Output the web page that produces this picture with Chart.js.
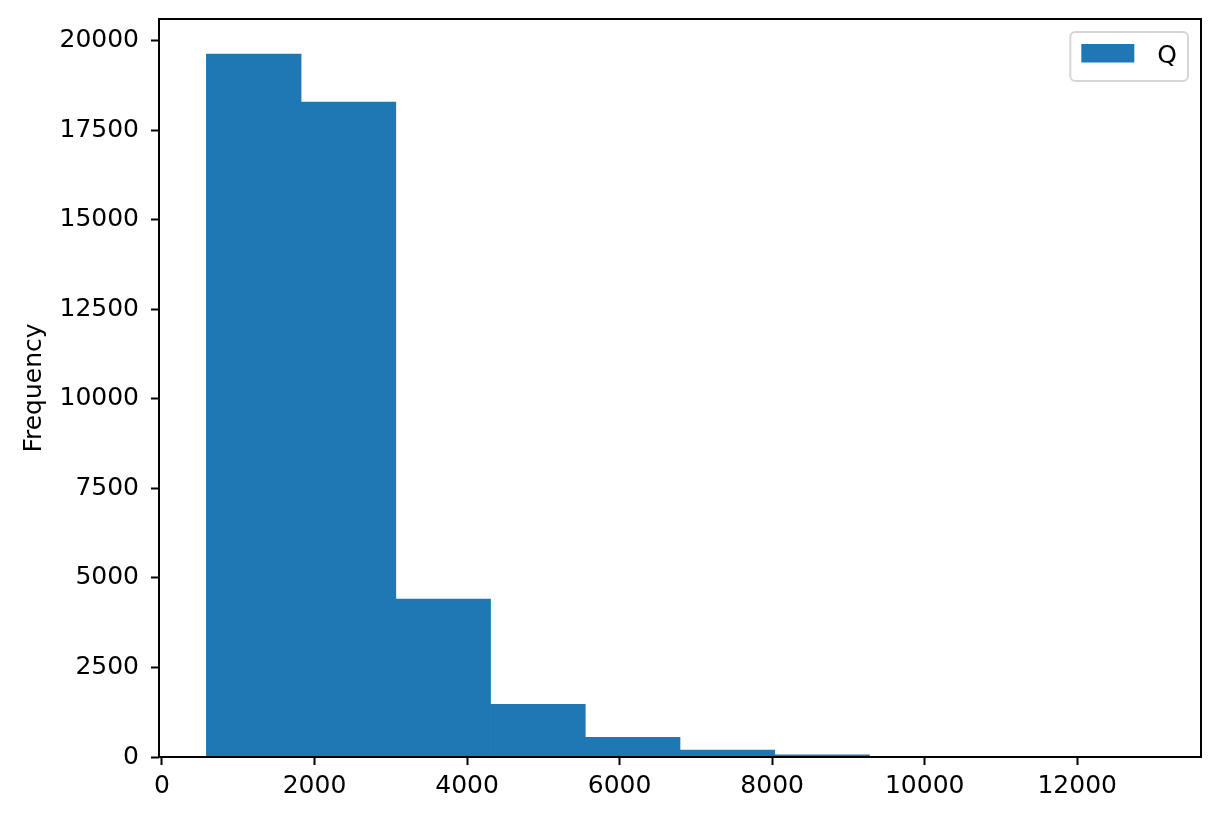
<!DOCTYPE html>
<html>
<head>
<meta charset="utf-8">
<script src="https://cdn.jsdelivr.net/npm/chart.js@4/dist/chart.umd.min.js"></script>
<style>
  html, body { margin: 0; padding: 0; background: #fff; }
  #chart { display: block; }
</style>
</head>
<body>
<canvas id="chart" width="1219" height="822"></canvas>
<script>
// Histogramm-Daten
const binEdges = [582, 1824, 3066, 4308, 5550, 6792, 8034, 9276, 10518, 11760, 13002];
const counts = [19630, 18290, 4410, 1470, 550, 190, 60, 15, 5, 2];
const seriesLabel = 'Q';
const xTicks = [0, 2000, 4000, 6000, 8000, 10000, 12000];
const yTicks = [0, 2500, 5000, 7500, 10000, 12500, 15000, 17500, 20000];
const yTitle = 'Frequency';

const FONT = 'DejaVu Sans';
const BAR_COLOR = '#1f77b4';

// Balken in der Mitte jedes Bins
const binData = counts.map((c, i) => ({ x: (binEdges[i] + binEdges[i + 1]) / 2, y: c }));

// Achsenbereich wie bei matplotlib (5 % Rand)
const span = binEdges[binEdges.length - 1] - binEdges[0];
const xMin = binEdges[0] - span * 0.05;
const xMax = binEdges[binEdges.length - 1] + span * 0.05;
const yMax = Math.max(...counts) * 1.05;

// Rahmen um die Zeichenfläche (über den Balken)
const framePlugin = {
    id: 'frame',
    afterDatasetsDraw(chart) {
        const { ctx, chartArea: a } = chart;
        ctx.save();
        ctx.strokeStyle = '#000';
        ctx.lineWidth = 2;
        ctx.strokeRect(a.left, a.top, a.right - a.left, a.bottom - a.top);
        ctx.restore();
    }
};

// Legende innerhalb der Zeichenfläche, oben rechts
const legendPlugin = {
    id: 'innerLegend',
    afterDraw(chart) {
        const { ctx, chartArea: a } = chart;
        const ds = chart.data.datasets[0];
        ctx.save();
        ctx.font = `25px "${FONT}"`;
        const tw = ctx.measureText(ds.label).width;
        const w = 11 + 53 + 23 + tw + 11;
        const h = 49;
        const x = a.right - 13 - w;
        const y = a.top + 13;
        ctx.beginPath();
        ctx.roundRect(x, y, w, h, 5);
        ctx.fillStyle = 'rgba(255,255,255,0.8)';
        ctx.fill();
        ctx.strokeStyle = '#d6d6d6';
        ctx.lineWidth = 2;
        ctx.stroke();
        ctx.fillStyle = ds.backgroundColor;
        ctx.fillRect(x + 11, y + 12, 53, 18.5);
        ctx.fillStyle = '#000';
        ctx.textBaseline = 'alphabetic';
        ctx.fillText(ds.label, x + 11 + 53 + 23, y + 31);
        ctx.restore();
    }
};

const tickFont = { family: FONT, size: 25 };
const plainNumber = (v) => String(v);

new Chart(document.getElementById('chart'), {
    type: 'bar',
    data: {
        datasets: [{
            label: seriesLabel,
            data: binData,
            backgroundColor: BAR_COLOR,
            borderWidth: 0,
            barPercentage: 1,
            categoryPercentage: 1
        }]
    },
    options: {
        responsive: false,
        devicePixelRatio: 1,
        animation: false,
        layout: { padding: { top: 19, right: 18, left: 0, bottom: 0 } },
        plugins: {
            legend: { display: false },
            tooltip: { enabled: false }
        },
        scales: {
            x: {
                type: 'linear',
                min: xMin,
                max: xMax,
                offset: false,
                afterBuildTicks: (s) => { s.ticks = xTicks.map(v => ({ value: v })); },
                afterFit: (s) => { s.height = 65; s.paddingLeft = 0; s.paddingRight = 0; },
                grid: { offset: false, drawOnChartArea: false, drawTicks: true, tickLength: 8, tickWidth: 2, tickColor: '#000' },
                border: { display: false },
                ticks: { font: tickFont, color: '#000', padding: 6, maxRotation: 0, autoSkip: false, callback: plainNumber }
            },
            y: {
                min: 0,
                max: yMax,
                afterBuildTicks: (s) => { s.ticks = yTicks.map(v => ({ value: v })); },
                afterFit: (s) => { s.width = 159; s.paddingTop = 0; s.paddingBottom = 0; },
                grid: { drawOnChartArea: false, drawTicks: true, tickLength: 8, tickWidth: 2, tickColor: '#000' },
                border: { display: false },
                ticks: { font: tickFont, color: '#000', padding: 12, autoSkip: false, callback: plainNumber },
                title: { display: true, text: yTitle, font: tickFont, color: '#000', padding: { top: 19, bottom: 0 } }
            }
        }
    },
    plugins: [framePlugin, legendPlugin]
});
</script>
</body>
</html>
